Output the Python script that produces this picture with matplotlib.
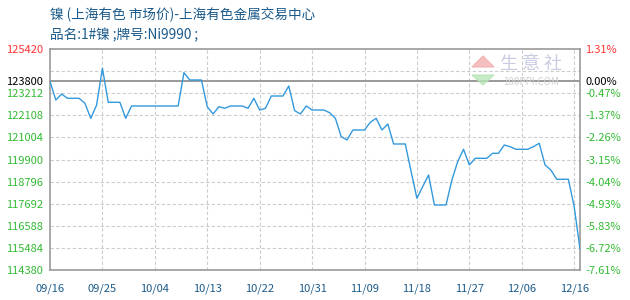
import matplotlib
matplotlib.use("Agg")
import matplotlib.pyplot as plt
from matplotlib.patches import Polygon

plt.rcParams['font.family'] = ['Noto Sans CJK SC', 'DejaVu Sans']

# price per day index (0 = 09/16)
days = list(range(92))
prices = [
    123800, 122873, 123170, 122957, 122957, 122957, 122707, 121958, 122620, 124456,
    122757, 122757, 122757, 121958, 122573, 122573, 122573, 122573, 122573, 122573,
    122573, 122573, 122573, 124236, 123872, 123872, 123872, 122538, 122173, 122538,
    122458, 122573, 122573, 122573, 122458, 122957, 122373, 122458, 123072, 123072,
    123072, 123572, 122340, 122173, 122573, 122373, 122373, 122373, 122240, 121958,
    121040, 120875, 121374, 121374, 121374, 121759, 121958, 121374, 121674, 120675,
    120675, 120675, 119300, 117963, 118550, 119126, 117628, 117628, 117628, 118876,
    119790, 120410, 119627, 119960, 119960, 119960, 120210, 120210, 120625, 120540,
    120410, 120410, 120410, 120540, 120710, 119627, 119376, 118912, 118912, 118912,
    117548, 115430,
]

base_price = 123800
y_top = 125420
y_bottom = 114380
grid_levels = [115484, 116588, 117692, 118796, 119900, 121004, 122108, 123212, 124316]

left_ticks = [125420, 123800, 123212, 122108, 121004, 119900, 118796, 117692, 116588, 115484, 114380]
right_labels = ['1.31%', '0.00%', '-0.47%', '-1.37%', '-2.26%', '-3.15%',
                '-4.04%', '-4.93%', '-5.83%', '-6.72%', '-7.61%']
tick_colors = ['#ff3333', '#000000'] + ['#33bb33'] * 9

x_ticks = [0, 9, 18, 27, 36, 45, 54, 63, 72, 81, 90]
x_labels = ['09/16', '09/25', '10/04', '10/13', '10/22', '10/31',
            '11/09', '11/18', '11/27', '12/06', '12/16']

title1 = '镍 (上海有色 市场价)-上海有色金属交易中心'
title2 = '品名:1#镍 ;牌号:Ni9990 ;'

fig = plt.figure(figsize=(6.3, 3.0), dpi=100)
ax = fig.add_axes([50 / 630, 30 / 300, 530 / 630, 221 / 300])

for lv in grid_levels:
    ax.axhline(lv, color='#cccccc', lw=0.8, ls=(0, (3, 2)), zorder=1)
for xt in x_ticks[1:]:
    ax.axvline(xt, color='#cccccc', lw=0.8, ls=(0, (3, 2)), zorder=1)
ax.axhline(base_price, color='#999999', lw=1.4, zorder=2)

ax.plot(days, prices, color='#3399dd', lw=1.0, zorder=3)

ax.set_xlim(0, 91)
ax.set_ylim(y_bottom, y_top)
for s in ax.spines.values():
    s.set_color('#999999')
    s.set_linewidth(1.2)

ax.set_yticks(left_ticks)
ax.set_yticklabels([str(v) for v in left_ticks])
for lbl, c in zip(ax.get_yticklabels(), tick_colors):
    lbl.set_color(c)
ax.tick_params(axis='y', length=0, pad=5, labelsize=8)

ax2 = ax.twinx()
ax2.set_ylim(y_bottom, y_top)
ax2.set_yticks(left_ticks)
ax2.set_yticklabels(right_labels)
for lbl, c in zip(ax2.get_yticklabels(), tick_colors):
    lbl.set_color(c)
ax2.tick_params(axis='y', length=0, pad=4, labelsize=8)
for s in ax2.spines.values():
    s.set_visible(False)

ax.set_xticks(x_ticks)
ax.set_xticklabels(x_labels)
ax.tick_params(axis='x', length=0, pad=10, labelsize=8, colors='#1a5a8a')

fig.text(50 / 630, 1 - 14 / 300, title1, fontsize=9.8, color='#1a5a8a', va='center')
fig.text(50 / 630, 1 - 35 / 300, title2, fontsize=9.8, color='#1a5a8a', va='center')

# watermark
fig.patches.append(Polygon([[472 / 630, 1 - 67 / 300], [494 / 630, 1 - 67 / 300], [483 / 630, 1 - 56 / 300]],
                           closed=True, transform=fig.transFigure, color='#f2b0b0', alpha=0.8))
fig.patches.append(Polygon([[472 / 630, 1 - 75 / 300], [494 / 630, 1 - 75 / 300], [483 / 630, 1 - 85 / 300]],
                           closed=True, transform=fig.transFigure, color='#b8e6b8', alpha=0.8))
fig.text(531 / 630, 1 - 64 / 300, '生 意 社', fontsize=13, color='#c8cce0', ha='center', va='center')
fig.text(531 / 630, 1 - 82 / 300, '100PPI.COM', fontsize=7, color='#d0d0d0', ha='center', va='center')

fig.savefig('out.png', dpi=100)
